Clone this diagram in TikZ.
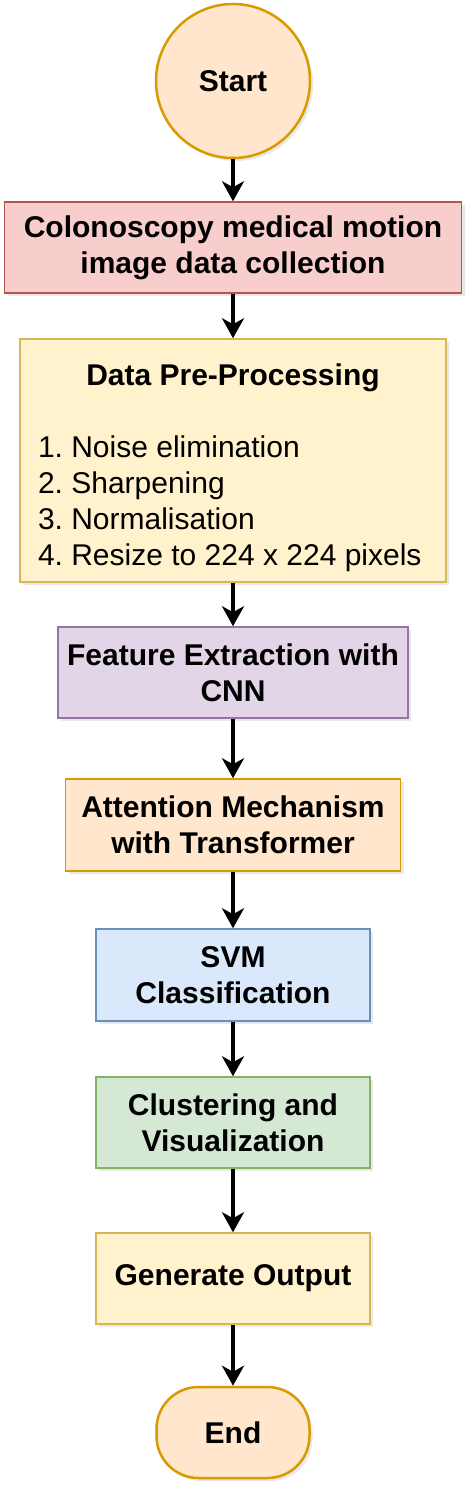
\documentclass[tikz,border=0pt]{standalone}
\usepackage{fontspec}
\setmainfont{Liberation Sans}
\usetikzlibrary{arrows.meta,shadows}

\definecolor{redfill}{HTML}{F8CECC}
\definecolor{redline}{HTML}{B85450}
\definecolor{yellowfill}{HTML}{FFF2CC}
\definecolor{yellowline}{HTML}{D6B656}
\definecolor{purplefill}{HTML}{E1D5E7}
\definecolor{purpleline}{HTML}{9673A6}
\definecolor{orangefill}{HTML}{FFE6CC}
\definecolor{orangeline}{HTML}{D79B00}
\definecolor{bluefill}{HTML}{DAE8FC}
\definecolor{blueline}{HTML}{6C8EBF}
\definecolor{greenfill}{HTML}{D5E8D4}
\definecolor{greenline}{HTML}{82B366}

\begin{document}
\begin{tikzpicture}[x=1pt,y=-1pt,
  box/.style={draw, line width=1.5pt, minimum height=91pt, align=center,
    font=\fontsize{30}{36}\selectfont\bfseries,
    drop shadow={opacity=0.18, shadow xshift=3pt, shadow yshift=-3pt}},
  terminal/.style={box, draw=orangeline, fill=orangefill, line width=2.5pt},
  flow/.style={-{Stealth[length=20pt,width=22pt,inset=6pt]}, line width=3.5pt}]
\useasboundingbox (0,0) rectangle (472,1491);

\node[terminal, circle, minimum size=154pt, inner sep=0pt] (start) at (233,81) {Start};

\node[box, draw=redline, fill=redfill, minimum width=457pt] (collect) at (233,247.5) {
  Colonoscopy medical motion\\ image data collection
};

\node[box, draw=yellowline, fill=yellowfill, minimum height=243pt,
  text width=390pt, inner xsep=18pt, align=flush left,
  font=\fontsize{30}{36}\selectfont] (prep) at (233,460.5) {
  \vspace*{0pt}
  \makebox[\linewidth][c]{\bfseries Data Pre-Processing}\\[36pt]
  1.\ Noise elimination\\
  2.\ Sharpening\\
  3.\ Normalisation\\
  \mbox{4.\ Resize to 224 x 224 pixels}
};

\node[box, draw=purpleline, fill=purplefill, minimum width=350pt] (feature) at (233,672.5) {
  Feature Extraction with\\ CNN
};

\node[box, draw=orangeline, fill=orangefill, minimum width=335pt, minimum height=92pt] (attention) at (233,825) {
  Attention Mechanism\\ with Transformer
};

\node[box, draw=blueline, fill=bluefill, minimum width=274pt, minimum height=92pt] (svm) at (233,975) {
  SVM\\ Classification
};

\node[box, draw=greenline, fill=greenfill, minimum width=274pt] (cluster) at (233,1122.5) {
  Clustering and\\ Visualization
};

\node[box, draw=yellowline, fill=yellowfill, minimum width=274pt] (output) at (233,1278.5) {Generate Output};

\node[terminal, minimum width=153pt, minimum height=91pt, rounded corners=42pt] (end) at (233,1432.5) {End};

\draw[flow] (start) -- (collect);
\draw[flow] (collect) -- (prep);
\draw[flow] (prep) -- (feature);
\draw[flow] (feature) -- (attention);
\draw[flow] (attention) -- (svm);
\draw[flow] (svm) -- (cluster);
\draw[flow] (cluster) -- (output);
\draw[flow] (output) -- (end);
\end{tikzpicture}
\end{document}
